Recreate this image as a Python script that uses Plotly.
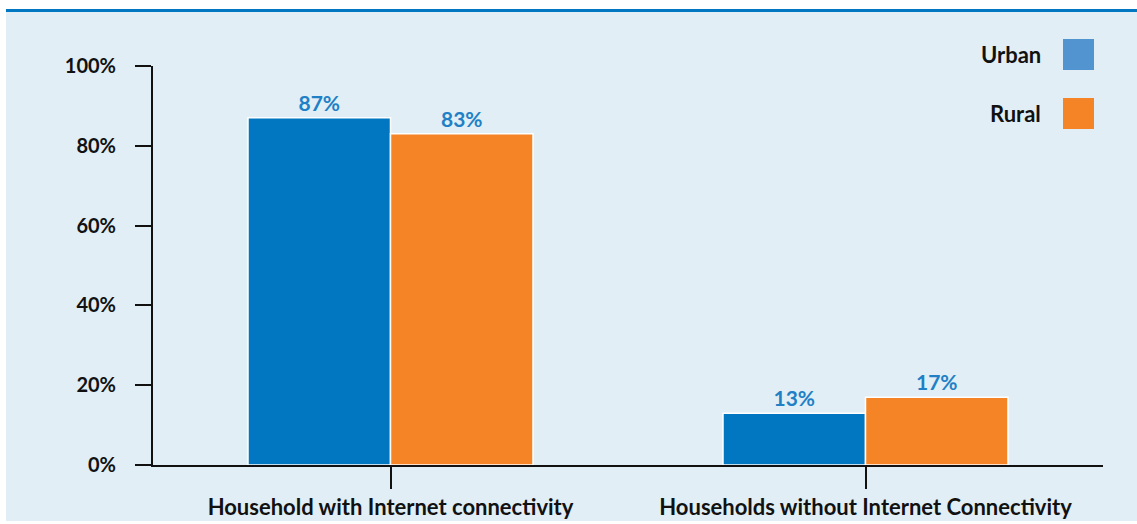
import plotly.graph_objects as go

# Share of households by internet connectivity, urban vs rural
categories = ["Household with Internet connectivity", "Households without Internet Connectivity"]
series_names = ["Urban", "Rural"]
urban_values = [87, 13]
rural_values = [83, 17]
y_tick_values = [0, 20, 40, 60, 80, 100]
y_tick_labels = ["0%", "20%", "40%", "60%", "80%", "100%"]

bar_colors = ["#0077c0", "#f58426"]
legend_colors = ["#5294d0", "#f58426"]
label_color = "#1f80c6"
panel_color = "#e1eef6"
font_family = "Lato, 'Open Sans', sans-serif"

W, H = 1137, 524
ML, MR, MT, MB = 153, 34, 66, 59
plot_w = W - ML - MR
plot_h = H - MT - MB


def px_to_paper_x(px):
    return (px - ML) / plot_w


def px_to_paper_y(py):
    return (H - MB - py) / plot_h


fig = go.Figure()
for name, vals, col in zip(series_names, [urban_values, rural_values], bar_colors):
    fig.add_trace(go.Bar(
        x=categories,
        y=vals,
        name=name,
        marker=dict(color=col, line=dict(color="white", width=1.5)),
        text=[f"{v}%" for v in vals],
        textposition="outside",
        textfont=dict(family=font_family, size=21, color=label_color, weight="bold"),
        cliponaxis=False,
        showlegend=False,
    ))

shapes = [
    # light panel behind the chart
    dict(type="rect", xref="paper", yref="paper", layer="below",
         x0=px_to_paper_x(6), x1=px_to_paper_x(W + 2),
         y0=px_to_paper_y(521), y1=px_to_paper_y(12),
         fillcolor=panel_color, line=dict(width=0)),
    # blue rule along the top
    dict(type="rect", xref="paper", yref="paper", layer="below",
         x0=px_to_paper_x(6), x1=px_to_paper_x(W + 2),
         y0=px_to_paper_y(12), y1=px_to_paper_y(9),
         fillcolor="#0077c0", line=dict(width=0)),
]

annotations = []
# custom legend: label on the left, square swatch on the right
for i, (name, col) in enumerate(zip(series_names, legend_colors)):
    top = 39 + i * 59
    shapes.append(dict(type="rect", xref="paper", yref="paper",
                       x0=px_to_paper_x(1063), x1=px_to_paper_x(1094),
                       y0=px_to_paper_y(top + 31), y1=px_to_paper_y(top),
                       fillcolor=col, line=dict(width=0)))
    annotations.append(dict(xref="paper", yref="paper",
                            x=px_to_paper_x(1043), y=px_to_paper_y(top + 15.5),
                            xanchor="right", yanchor="middle", showarrow=False,
                            text=f"<b>{name}</b>",
                            font=dict(family=font_family, size=22, color="#111111")))

fig.update_layout(
    width=W, height=H,
    margin=dict(l=ML, r=MR, t=MT, b=MB, autoexpand=False),
    paper_bgcolor="white",
    plot_bgcolor="rgba(0,0,0,0)",
    barmode="group",
    bargap=0.4,
    bargroupgap=0.0,
    shapes=shapes,
    annotations=annotations,
    font=dict(family=font_family, color="#111111"),
)

fig.update_yaxes(
    range=[0, 100],
    automargin=False,
    tickvals=y_tick_values,
    ticktext=y_tick_labels,
    showgrid=False,
    zeroline=False,
    showline=True, linecolor="#111111", linewidth=2,
    ticks="outside", ticklen=16, tickwidth=2, tickcolor="#111111",
    ticklabelstandoff=15,
    tickfont=dict(family=font_family, size=20, color="#111111", weight="bold"),
)
fig.update_xaxes(
    range=[-0.5, 1.5],
    automargin=False,
    showgrid=False,
    showline=True, linecolor="#111111", linewidth=2,
    ticks="outside", ticklen=22, tickwidth=2, tickcolor="#111111",
    tickfont=dict(family=font_family, size=22, color="#111111", weight="bold"),
)

fig.write_html("out.html")
